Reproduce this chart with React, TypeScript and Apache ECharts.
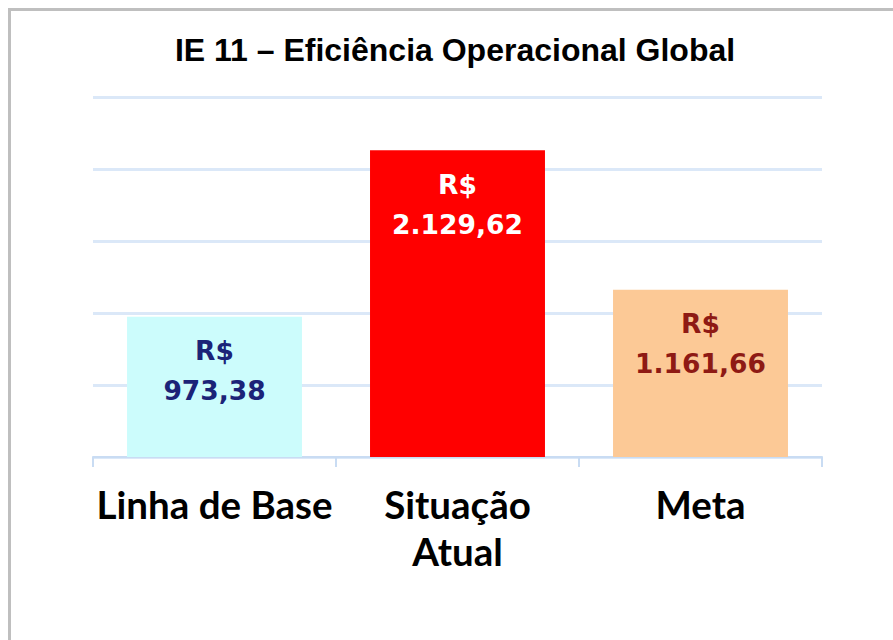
import React, { useEffect, useRef } from "react";
import * as echarts from "echarts";

const titleText = "IE 11 – Eficiência Operacional Global";
const categories = ["Linha de Base", "Situação\nAtual", "Meta"];
const values = [973.38, 2129.62, 1161.66];
const barColors = ["#ccfcfc", "#ff0000", "#fcc996"];
const labelColors = ["#1b2378", "#ffffff", "#8e1a14"];
const yTicks = { min: 0, max: 2500, interval: 500 };

function fmtBR(v: number): string {
  const [i, d] = v.toFixed(2).split(".");
  const withDots = i.replace(/\B(?=(\d{3})+(?!\d))/g, ".");
  return withDots + "," + d;
}

export default function App() {
  const ref = useRef<HTMLDivElement>(null);
  useEffect(() => {
    if (!ref.current) return;
    const chart = echarts.init(ref.current, null, { renderer: "svg" });
    chart.setOption({
      animation: false,
      graphic: [
        {
          type: "text",
          x: 455,
          y: 50,
          style: {
            text: titleText,
            font: "bold 32px 'Liberation Sans', Arial, sans-serif",
            fill: "#000000",
            textAlign: "center",
            textVerticalAlign: "middle",
          },
        },
      ],
      grid: { left: 93, right: 71, top: 97, bottom: 183, containLabel: false },
      xAxis: {
        type: "category",
        data: categories,
        axisLine: { show: true, lineStyle: { color: "#c9dcf3", width: 2 } },
        axisTick: { show: true, length: 10, lineStyle: { color: "#c9dcf3", width: 2 } },
        axisLabel: {
          interval: 0,
          margin: 23,
          color: "#000000",
          fontFamily: "Lato, 'Open Sans', sans-serif",
          fontWeight: "bold",
          fontSize: 38.5,
          lineHeight: 47,
        },
      },
      yAxis: {
        type: "value",
        min: yTicks.min,
        max: yTicks.max,
        interval: yTicks.interval,
        axisLine: { show: false },
        axisTick: { show: false },
        axisLabel: { show: false },
        splitLine: { show: true, lineStyle: { color: "#dbe8f8", width: 3 } },
      },
      series: [
        {
          type: "bar",
          barWidth: "72%",
          data: values.map((v, i) => ({
            value: v,
            itemStyle: { color: barColors[i] },
            label: { color: labelColors[i] },
          })),
          label: {
            show: true,
            position: "insideTop",
            distance: 14,
            fontFamily: "'DejaVu Sans', sans-serif",
            fontWeight: "bold",
            fontSize: 26.5,
            lineHeight: 40,
            formatter: (p: any) => "R$\n" + fmtBR(p.value),
          },
        },
      ],
    });
    return () => chart.dispose();
  }, []);

  return (
    <div>
      <div
        style={{
          position: "fixed",
          left: 8,
          top: 8,
          width: 885,
          height: 632,
          boxSizing: "border-box",
          borderTop: "3px solid #bfbfbf",
          borderLeft: "3px solid #bfbfbf",
          background: "#ffffff",
        }}
      />
      <div
        ref={ref}
        style={{ position: "fixed", left: 0, top: 0, width: 893, height: 640 }}
      />
    </div>
  );
}
